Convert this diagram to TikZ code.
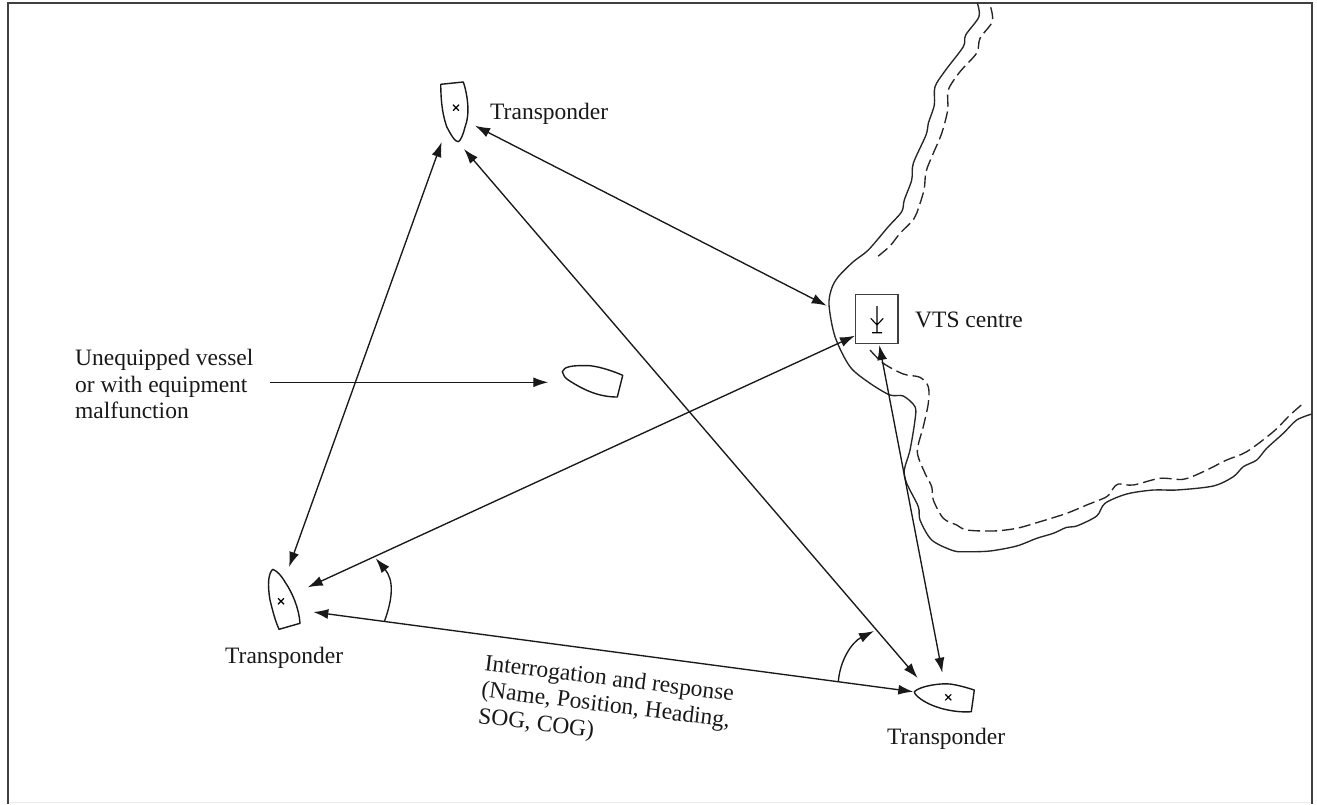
\documentclass[tikz,border=0pt]{standalone}
\usepackage{fontspec}
\setmainfont{Liberation Serif}
\usetikzlibrary{arrows.meta}
\tikzset{
  x=1pt,y=-1pt,
  link/.style={draw=black!90,line width=1.35pt,{Latex[length=15pt,width=10pt]}-{Latex[length=15pt,width=10pt]}},
  onearrow/.style={draw=black!90,line width=1.35pt,-{Latex[length=15pt,width=10pt]}},
  vessel/.style={draw=black!90,line width=1.4pt,line join=round},
  shore/.style={draw=black!85,line width=1.35pt},
  shoredash/.style={draw=black!85,line width=1.35pt,dash pattern=on 12pt off 5pt},
  lbl/.style={font=\fontsize{23.5}{26.5}\selectfont,inner sep=0pt,text=black!90},
}
\begin{document}
\begin{tikzpicture}
\useasboundingbox (0,0) rectangle (1317,804);
\fill[white] (0,0) rectangle (1317,804);
\draw[draw=black!8,line width=1pt] (7.5,802) -- (1312,802);
\draw[draw=black!75,line width=2pt] (7.5,804) -- (7.5,2.5) -- (1312,2.5) -- (1312,804);
% coast, solid
\draw[shore] plot[smooth,tension=0.5] coordinates {(977.3,3)(979,16.7)(965.7,35)(963.3,46.7)(945.7,70)(935,86.7)(934.3,105)(928.3,123.3)(926,135)(913.3,163.3)(911.7,180)(904.3,200)(901.7,211.7)(888.3,226.7)(868.3,250)(853.3,261.7)(838.3,276.7)(831.7,288.3)(829,305)(835,336.7)(850,366.7)(870,383.3)(890,395)(903.3,396)(915,406.7)(915,420)(910,450)(904.3,470)(906.7,483.3)(918.3,506.7)(920,520)(931.7,540)(953.3,550.7)(966.7,551.7)(990,551)(1016.7,546)(1036.7,538.3)(1053.3,533.3)(1066.7,527.3)(1076.7,526)(1096.7,516)(1105,503.3)(1126.7,494)(1153.3,490)(1176.7,490)(1213.3,486)(1233.3,476.7)(1243.3,466.7)(1256.7,460)(1266.7,448.3)(1283.3,433.3)(1296.7,420)(1311.7,414)};
% coast, dashed
\draw[shoredash] plot[smooth,tension=0.5] coordinates {(990.7,7.3)(992.3,21.7)(980,38.3)(976.7,53)(960,71.7)(948.3,90)(947.7,110)(941.7,133.3)(933.3,153.3)(926,171.7)(924,190)(916.7,213.3)(913.3,220)(900,233.3)(890,246)(876.7,257.3)};
\draw[shoredash] plot[smooth,tension=0.5] coordinates {(870,350)(883.3,363.3)(903.3,374)(920,377.3)(928.3,386.7)(928.3,403.3)(923.3,426.7)(917.3,451.7)(925,473.3)(931.7,486.7)(933.3,500)(943.3,518.3)(956.7,525)(966.7,530)(993.3,531)(1016.7,528.3)(1040,521.7)(1066.7,513.3)(1086.7,505)(1106.7,496.7)(1113.3,488.3)(1118.3,484)(1133.3,485)(1160,478.3)(1183.3,479.3)(1203.3,471.7)(1226.7,460)(1246.7,451.7)(1273.3,431.7)(1290,415)(1303.3,403.3)};
% vessels
\draw[vessel] (440.7,84.3) -- (463.3,82) .. controls (468,96) and (470,115) .. (465,127) .. controls (463,135) and (461,140) .. (458.3,141.7) .. controls (455,142) and (451,135) .. (446.7,126.7) .. controls (441,110) and (441,95) .. cycle;
\draw[vessel] (562.3,371.7) .. controls (564,367) and (570,365) .. (590,365.7) .. controls (602,367) and (615,372) .. (622.7,375.3) -- (617.3,397) .. controls (600,397) and (585,391) .. (568.3,380) .. controls (565,378) and (563,375) .. cycle;
\draw[vessel] (272.7,569.3) .. controls (268,574) and (267.5,585) .. (270,600) .. controls (273,612) and (275,620) .. (279,629.3) -- (300,623.3) .. controls (299,608) and (292,592) .. (285,582) .. controls (281,575) and (277,571) .. cycle;
\draw[vessel] (914.3,691.7) .. controls (920,686) and (940,683) .. (950,684) .. controls (958,685) and (968,688) .. (974.3,690) -- (971.3,711.7) .. controls (955,713) and (930,708) .. (917,696) .. controls (915,694) and (914.5,693) .. cycle;
% vessel centre marks
\foreach \cx/\cy in {456/107.7,281/601.3,948.3/697.3}{
  \draw[line width=1.2pt] (\cx-3,\cy-3) -- (\cx+3,\cy+3) (\cx-3,\cy+3) -- (\cx+3,\cy-3);
}
% VTS centre
\node[draw=black!75,line width=1.4pt,minimum width=42.5pt,minimum height=49pt,inner sep=0pt] (vts) at (876.8,318.8) {};
\draw[line width=1.1pt] (877,306) -- (877,332.7) (872,332.7) -- (882,332.7) (870.7,318.3) -- (877,325) -- (883.3,318.3);
% anchors
\coordinate (topS) at (441.7,142);
\coordinate (topE) at (464,149);
\coordinate (topV) at (475,125.7);
\coordinate (vtsN) at (826.7,305.7);
\coordinate (vtsW) at (855,335.7);
\coordinate (vtsS) at (879.3,345);
\coordinate (lftN) at (289,567);
\coordinate (lftE) at (307.7,587.3);
\coordinate (lftS) at (313.3,612);
\coordinate (rgtN) at (917.7,678);
\coordinate (rgtE) at (942.3,672.7);
\coordinate (rgtW) at (913.3,691.7);
\coordinate (arc1a) at (384.3,621.7);
\coordinate (arc1b) at (375.7,558.3);
\coordinate (arc2a) at (838.3,681.7);
\coordinate (arc2b) at (874,631);
\coordinate (unStart) at (270,382.3);
\coordinate (unEnd) at (548.3,382.3);
% links
\draw[link] (topS) -- (lftN);
\draw[link] (topE) -- (rgtN);
\draw[link] (topV) -- (vtsN);
\draw[link] (vtsW) -- (lftE);
\draw[link] (vtsS) -- (rgtE);
\draw[link] (lftS) -- (rgtW);
\draw[onearrow] (unStart) -- (unEnd);
\draw[onearrow] (arc1a) .. controls (393,598) and (394,580) .. (arc1b);
\draw[onearrow] (arc2a) .. controls (840,660) and (852,642) .. (arc2b);
% labels
\node[lbl,anchor=base west] (tTop) at (490,119) {Transponder};
\node[lbl,anchor=base west] (tVts) at (915,327) {VTS centre};
\node[lbl,anchor=base west] (tLft) at (225,663) {Transponder};
\node[lbl,anchor=base west] (tRgt) at (887,744) {Transponder};
\node[lbl,anchor=north west,align=left] (tUn) at (75,349) {Unequipped vessel\\or with equipment\\malfunction};
\node[lbl,anchor=north west,align=left,rotate=-7] (tIr) at (486,654) {Interrogation and response\\(Name, Position, Heading,\\SOG, COG)};
\end{tikzpicture}
\end{document}
